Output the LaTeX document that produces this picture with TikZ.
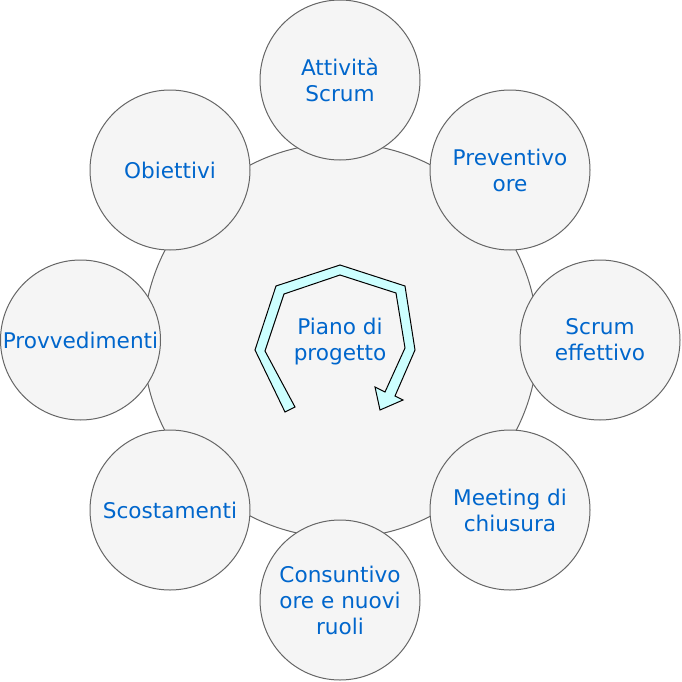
\documentclass[tikz,border=0pt]{standalone}
\usepackage{fontspec}
\setmainfont{DejaVu Sans}
\definecolor{bolla}{HTML}{F5F5F5}
\definecolor{bordo}{HTML}{666666}
\definecolor{testo}{HTML}{0066CC}
\definecolor{freccia}{HTML}{CCFFFF}
\tikzset{
    fase/.style={circle, draw=bordo, fill=bolla, line width=0.75pt, minimum size=120pt,
        inner sep=0pt, align=center, text=testo, font=\fontsize{16.2}{19.5}\selectfont},
}

\begin{document}
\begin{tikzpicture}[x=0.75pt, y=-0.75pt]
    \useasboundingbox (0,0) rectangle (682,682);
    % The big circle behind.
        \node[fase, minimum size=296pt] (piano) at (340.5,340.5) {};
    % The central arrow.
        \draw[black, fill=freccia, line width=0.75pt, line join=miter]
            (285,412) -- (255,350) -- (276,286) -- (340,265) -- (405,286) -- (415,350)
            -- (395,396) -- (403,400) -- (380,410) -- (375,387) -- (385,392)
            -- (405,348) -- (396,293) -- (340,275) -- (284,294) -- (265,351)
            -- (295,407) -- cycle;
        \node[text=testo, align=center, font=\fontsize{16.2}{19.5}\selectfont] (titolo) at (340,342) {Piano di\\progetto};
    % Below nodes are the phases round it.
        \node[fase] (attivita) at (340,80) {Attività\\Scrum};
        \node[fase] (preventivo) at (510,170) {Preventivo\\ore};
        \node[fase] (effettivo) at (600,340) {Scrum\\effettivo};
        \node[fase] (meeting) at (510,510) {Meeting di\\chiusura};
        \node[fase] (consuntivo) at (340,600) {Consuntivo\\ore e nuovi\\ruoli};
        \node[fase] (scostamenti) at (170,510) {Scostamenti};
        \node[fase] (provvedimenti) at (80.5,340) {Provvedimenti};
        \node[fase] (obiettivi) at (170,170) {Obiettivi};
\end{tikzpicture}
\end{document}
